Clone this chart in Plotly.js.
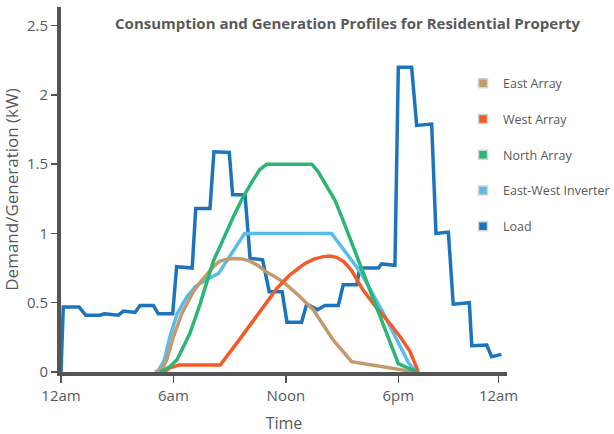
<!DOCTYPE html>
<html>
<head>
<meta charset="utf-8">
<script src="https://cdn.plot.ly/plotly-3.0.1.min.js"></script>
<style>html,body{margin:0;padding:0;background:#fff;}#chart{width:614px;height:434px;}</style>
</head>
<body>
<div id="chart"></div>
<script>
// ---- Data (hours of day, kW) ----
const loadHours = [0, 0.12, 0.96, 1.32, 2.08, 2.31, 3.06, 3.33, 3.95, 4.22, 4.93, 5.19, 5.96, 6.17, 7.0, 7.19, 7.95, 8.16, 8.98, 9.16, 9.82, 10.09, 10.76, 11.11, 11.8, 12.06, 12.84, 13.11, 13.68, 14.09, 14.8, 15.06, 15.78, 15.95, 16.93, 17.11, 17.82, 18.0, 18.71, 18.98, 19.78, 20.01, 20.67, 20.93, 21.79, 21.92, 22.72, 22.98, 23.5];
const loadKW    = [0, 0.47, 0.47, 0.41, 0.41, 0.42, 0.41, 0.44, 0.43, 0.48, 0.48, 0.42, 0.42, 0.76, 0.75, 1.18, 1.18, 1.59, 1.585, 1.28, 1.28, 0.82, 0.81, 0.58, 0.58, 0.36, 0.36, 0.49, 0.45, 0.48, 0.48, 0.63, 0.63, 0.75, 0.75, 0.78, 0.77, 2.2, 2.2, 1.78, 1.79, 1.0, 1.01, 0.49, 0.5, 0.19, 0.195, 0.11, 0.127];

const eastHours = [5.0, 5.37, 5.64, 5.99, 6.44, 7.06, 7.5, 7.86, 8.2, 8.48, 8.9, 9.28, 9.7, 10.09, 10.5, 10.98, 11.4, 11.86, 12.7, 13.46, 14.53, 15.51, 17.2, 18.89];
const eastKW    = [0, 0.015, 0.087, 0.25, 0.42, 0.58, 0.66, 0.72, 0.77, 0.80, 0.815, 0.82, 0.815, 0.80, 0.77, 0.72, 0.69, 0.65, 0.55, 0.45, 0.23, 0.075, 0.04, 0];

const westHours = [5.5, 5.8, 6.3, 8.5, 9.5, 10.5, 11.5, 12.2, 12.6, 13.0, 13.5, 14.0, 14.35, 14.7, 15.1, 15.5, 16.13, 16.8, 17.55, 18.1, 18.62, 19.07];
const westKW    = [0, 0.03, 0.05, 0.05, 0.23, 0.41, 0.6, 0.70, 0.745, 0.782, 0.815, 0.833, 0.837, 0.828, 0.795, 0.734, 0.59, 0.47, 0.35, 0.255, 0.15, 0];

const northHours = [5.3, 5.82, 6.2, 6.88, 7.42, 8.13, 9.2, 9.7, 10.25, 10.6, 10.98, 13.38, 13.7, 14.0, 14.3, 14.62, 14.98, 18.0, 19.0];
const northKW    = [0, 0.04, 0.09, 0.28, 0.49, 0.8, 1.12, 1.26, 1.385, 1.46, 1.5, 1.5, 1.45, 1.385, 1.315, 1.24, 1.12, 0.06, 0];

const invHours = [5.15, 5.5, 5.8, 6.2, 6.7, 7.2, 7.8, 8.4, 9.8, 14.44, 16.04, 17.3, 18.53, 18.95];
const invKW    = [0, 0.08, 0.25, 0.42, 0.54, 0.62, 0.67, 0.71, 1.0, 1.0, 0.71, 0.4, 0.07, 0];

const seriesNames = ['East Array', 'West Array', 'North Array', 'East-West Inverter', 'Load'];
const tickHours = [0, 6, 12, 18, 23.35];
const tickLabels = ['12am', '6am', 'Noon', '6pm', '12am'];

// ---- Styles ----
const colors = {
  'East Array': '#C49A6C',
  'West Array': '#F15A29',
  'North Array': '#2BB673',
  'East-West Inverter': '#59BDEA',
  'Load': '#1C75BC'
};
const textColor = '#595959';
const font = 'Open Sans, Noto Sans, sans-serif';
const lw = 3.5;

function lineTrace(x, y, name) {
  return {x: x, y: y, name: name, mode: 'lines', type: 'scatter',
    line: {color: colors[name], width: lw}, showlegend: false, hoverinfo: 'skip'};
}

const traces = [
  lineTrace(loadHours, loadKW, 'Load'),
  lineTrace(invHours, invKW, 'East-West Inverter'),
  lineTrace(eastHours, eastKW, 'East Array'),
  lineTrace(westHours, westKW, 'West Array'),
  lineTrace(northHours, northKW, 'North Array')
];
// legend entries with square swatches
seriesNames.forEach(function (n, i) {
  traces.push({x: [null], y: [null], name: n, mode: 'markers', type: 'scatter',
    legendgroup: 'g' + i, legendrank: i + 1,
    marker: {symbol: 'square', size: 9, color: colors[n], line: {color: '#d4d4d4', width: 1.5}}});
});

const layout = {
  width: 614, height: 434,
  margin: {l: 61, r: 107, t: 7, b: 62, autoexpand: false},
  paper_bgcolor: '#fff', plot_bgcolor: '#fff',
  font: {family: font, color: textColor, size: 15},
  title: {text: 'Consumption and Generation Profiles for Residential Property',
    font: {family: font, size: 15, color: textColor, weight: 'bold'},
    xref: 'container', yref: 'container', x: 0.566, xanchor: 'center', y: 0.945, yanchor: 'middle'},
  xaxis: {range: [0, 23.8], tickmode: 'array', tickvals: tickHours, ticktext: tickLabels,
    showgrid: false, zeroline: false, showline: true, linecolor: '#555', linewidth: 4,
    ticks: 'outside', ticklen: 7, tickwidth: 1.5, tickcolor: '#555',
    tickfont: {size: 15, color: textColor},
    title: {text: 'Time', font: {size: 16, color: textColor}, standoff: 15}},
  yaxis: {range: [0, 2.635], dtick: 0.5, tick0: 0,
    showgrid: false, zeroline: false, showline: true, linecolor: '#555', linewidth: 4,
    ticks: 'outside', ticklen: 6, tickwidth: 1.5, tickcolor: '#555',
    tickfont: {size: 15, color: textColor},
    title: {text: 'Demand/Generation (kW)', font: {size: 17, color: textColor}}},
  showlegend: true,
  legend: {x: (463 - 61) / 446, xanchor: 'left', y: 0.831, yanchor: 'top',
    traceorder: 'grouped', tracegroupgap: 16.5, bgcolor: 'rgba(0,0,0,0)',
    font: {family: font, size: 12.5, color: textColor}, itemclick: false}
};

Plotly.newPlot('chart', traces, layout, {staticPlot: true, displayModeBar: false});
</script>
</body>
</html>
